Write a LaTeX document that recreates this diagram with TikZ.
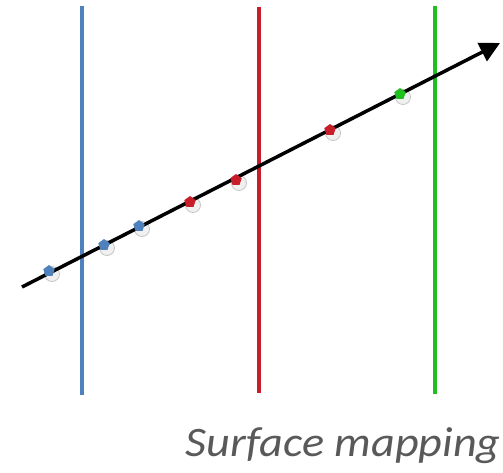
\documentclass[tikz,border=0pt]{standalone}
\usepackage{fontspec}
\setmainfont{Carlito}
\usetikzlibrary{arrows.meta,shapes.geometric}
\definecolor{cblue}{HTML}{4F81BD}
\definecolor{cred}{HTML}{C81E2A}
\definecolor{cgreen}{HTML}{1FBF1F}
\definecolor{ctext}{HTML}{595959}
\tikzset{
  vline/.style={line width=4.5pt},
  dotshadow/.style={circle,minimum size=15pt,inner sep=0pt,fill=gray!12,draw=gray!45,line width=0.8pt},
  dotmark/.style={regular polygon,regular polygon sides=5,minimum size=12pt,inner sep=0pt,fill=#1},
}
\begin{document}
\begin{tikzpicture}[x=1pt,y=-1pt]
\useasboundingbox (0,0) rectangle (503,472);
% vertical lines
\coordinate (b1) at (82,6); \coordinate (b2) at (82,395);
\coordinate (r1) at (259,7); \coordinate (r2) at (259,393);
\coordinate (g1) at (435,6); \coordinate (g2) at (435,394);
\draw[vline,cblue] (b1) -- (b2);
\draw[vline,cred] (r1) -- (r2);
\draw[vline,cgreen] (g1) -- (g2);
% shadows
\foreach \x/\y in {49/271,104/245,139/226,190/202,236/180,330/130,400/94}{
  \node[dotshadow] at (\x+3,\y+3) {};
}
% arrow
\coordinate (a0) at (22,287);
\coordinate (a1) at (500,43);
\draw[line width=3.5pt,-{Triangle[length=20pt,width=20pt]}] (a0) -- (a1);
% markers
\node[dotmark=cblue] (p1) at (49,271) {};
\node[dotmark=cblue] (p2) at (104,245) {};
\node[dotmark=cblue] (p3) at (139,226) {};
\node[dotmark=cred] (p4) at (190,202) {};
\node[dotmark=cred] (p5) at (236,180) {};
\node[dotmark=cred] (p6) at (330,130) {};
\node[dotmark=cgreen] (p7) at (400,94) {};
% label
\node[anchor=base east,text=ctext,font=\fontsize{42}{50}\selectfont\itshape,inner sep=0pt] (lbl) at (501,456) {\scalebox{1.1}[1]{Surface mapping}};
\end{tikzpicture}
\end{document}
